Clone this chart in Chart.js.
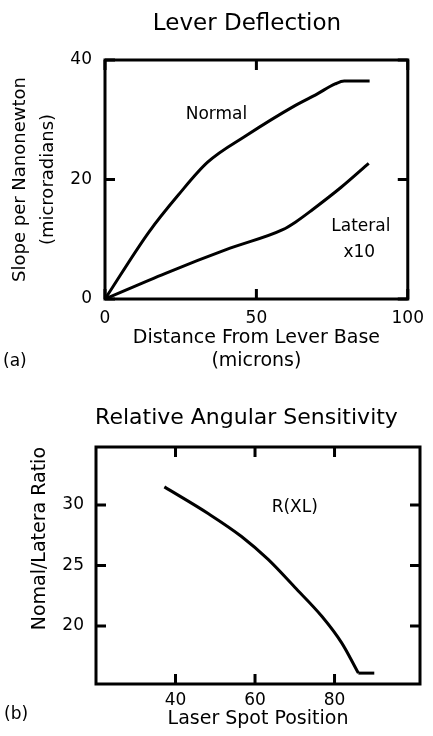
<!DOCTYPE html>
<html>
<head>
<meta charset="utf-8">
<script src="https://cdn.jsdelivr.net/npm/chart.js@4.4.1/dist/chart.umd.min.js"></script>
<style>
  html, body { margin: 0; padding: 0; background: #fff; }
  body { width: 433px; height: 736px; position: relative; overflow: hidden; font-family: "DejaVu Sans", sans-serif; }
  .panel { position: absolute; left: 0; width: 433px; }
  .tag { position: absolute; font-size: 17px; line-height: 20px; color: #000; }
</style>
</head>
<body>
<div class="panel" style="top:370px;height:366px"><canvas id="chartB" width="433" height="366"></canvas></div>
<div class="panel" style="top:0;height:376px"><canvas id="chartA" width="433" height="376"></canvas></div>
<div class="tag" style="left:3px;top:350px">(a)</div>
<div class="tag" style="left:4px;top:703px">(b)</div>
<script>
// (a) lever deflection
const normalX = [0, 14.5, 24.2, 33.9, 46.8, 62.9, 70, 76, 79, 87.4];
const normalY = [0, 11.2, 17.4, 22.9, 27.4, 32.4, 34.3, 36.0, 36.5, 36.5];
const lateralX = [0, 20, 41.3, 58.7, 63, 68.4, 78, 87.1];
const lateralY = [0, 4.3, 8.5, 11.6, 12.9, 14.9, 18.7, 22.7];
const xTicksA = [0, 50, 100];
const yTicksA = [0, 20, 40];

// (b) relative angular sensitivity (curve, then its flat end)
const ratioX = [37.2, 48.2, 56.6, 63.3, 70.0, 76.8, 81.8, 86.0];
const ratioY = [31.5, 29.3, 27.4, 25.5, 23.2, 20.8, 18.6, 16.1];
const ratioTailX = [86.0, 90.0];
const ratioTailY = [16.1, 16.1];
const xTicksB = [40, 60, 80];
const yTicksB = [20, 25, 30];

// curve labels, anchored in data units
const notesA = [
  { text: "Normal", x: 36.8, y: 30.8 },
  { text: "Lateral", x: 84.5, y: 12.2 },
  { text: "x10", x: 84, y: 7.8 }
];
const notesB = [{ text: "R(XL)", x: 70, y: 29.8 }];

const FONT = "'DejaVu Sans', sans-serif";
Chart.defaults.font.family = FONT;
Chart.defaults.color = "#000";

function points(xs, ys) {
  return xs.map((x, i) => ({ x: x, y: ys[i] }));
}

// box round the plot, inward tick marks on all four sides, curve labels
const framePlugin = {
  id: "frame",
  afterDatasetsDraw(chart, args, opts) {
    const { ctx, chartArea: a, scales } = chart;
    const len = 10;
    ctx.save();
    ctx.strokeStyle = "#000";
    ctx.lineWidth = 3;
    ctx.beginPath();
    scales.x.ticks.forEach(t => {
      const px = scales.x.getPixelForValue(t.value);
      ctx.moveTo(px, a.bottom); ctx.lineTo(px, a.bottom - len);
      ctx.moveTo(px, a.top); ctx.lineTo(px, a.top + len);
    });
    scales.y.ticks.forEach(t => {
      const py = scales.y.getPixelForValue(t.value);
      ctx.moveTo(a.left, py); ctx.lineTo(a.left + len, py);
      ctx.moveTo(a.right, py); ctx.lineTo(a.right - len, py);
    });
    ctx.stroke();
    ctx.strokeRect(a.left, a.top, a.right - a.left, a.bottom - a.top);

    ctx.fillStyle = "#000";
    ctx.font = "17px " + FONT;
    ctx.textAlign = "center";
    ctx.textBaseline = "middle";
    (opts.notes || []).forEach(n => {
      ctx.fillText(n.text, scales.x.getPixelForValue(n.x), scales.y.getPixelForValue(n.y));
    });
    ctx.restore();
  }
};

const lineStyle = {
  line: { borderColor: "#000", borderWidth: 3, cubicInterpolationMode: "monotone", fill: false },
  point: { radius: 0 }
};

// empty right-hand axis, only there to reserve room right of the plot
function spacer(w) {
  return {
    position: "right", display: true,
    grid: { display: false, drawTicks: false },
    border: { display: false },
    ticks: { display: false },
    afterFit: s => { s.width = w; }
  };
}

new Chart(document.getElementById("chartA"), {
  type: "line",
  data: {
    datasets: [
      { label: "Normal", data: points(normalX, normalY) },
      { label: "Lateral x10", data: points(lateralX, lateralY) }
    ]
  },
  options: {
    responsive: false,
    animation: false,
    layout: { padding: { left: 61, right: 0, top: 0, bottom: 3.5 } },
    elements: lineStyle,
    plugins: {
      legend: { display: false },
      tooltip: { enabled: false },
      title: {
        display: true, text: "Lever Deflection", color: "#000",
        font: { size: 23, weight: "normal", lineHeight: 1.2 },
        padding: { top: 10.2, bottom: 22.2 }
      },
      frame: { notes: notesA }
    },
    scales: {
      x: {
        type: "linear", min: 0, max: 100,
        grid: { display: false, drawTicks: false },
        border: { display: false },
        afterBuildTicks: s => { s.ticks = xTicksA.map(v => ({ value: v })); },
        afterFit: s => { s.height = 73.5; },
        ticks: { font: { size: 17 }, padding: 9, maxRotation: 0, autoSkip: false },
        title: {
          display: true, text: ["Distance From Lever Base", "(microns)"],
          font: { size: 19, lineHeight: 1.2 }, padding: { top: 0, bottom: 0 }
        }
      },
      y: {
        type: "linear", min: 0, max: 40,
        grid: { display: false, drawTicks: false },
        border: { display: false },
        afterBuildTicks: s => { s.ticks = yTicksA.map(v => ({ value: v })); },
        afterFit: s => { s.width = 44; },
        ticks: { font: { size: 17 }, padding: 13, autoSkip: false },
        title: {
          display: true, text: ["Slope per Nanonewton", "(microradians)"],
          font: { size: 18, lineHeight: 1.55 }, padding: { top: -55, bottom: 0 }
        }
      },
      yPad: spacer(19)
    }
  },
  plugins: [framePlugin]
});

new Chart(document.getElementById("chartB"), {
  type: "line",
  data: {
    datasets: [
      { label: "R(XL)", data: points(ratioX, ratioY) },
      { label: "R(XL) end", data: points(ratioTailX, ratioTailY) }
    ]
  },
  options: {
    responsive: false,
    animation: false,
    layout: { padding: { left: 60, right: 0, top: 0, bottom: 5.6 } },
    elements: lineStyle,
    plugins: {
      legend: { display: false },
      tooltip: { enabled: false },
      title: {
        display: true, text: "Relative Angular Sensitivity", color: "#000",
        font: { size: 22, weight: "normal", lineHeight: 1.2 },
        padding: { top: 34.8, bottom: 15.8 }
      },
      frame: { notes: notesB }
    },
    scales: {
      x: {
        type: "linear", min: 20, max: 101.5,
        grid: { display: false, drawTicks: false },
        border: { display: false },
        afterBuildTicks: s => { s.ticks = xTicksB.map(v => ({ value: v })); },
        afterFit: s => { s.height = 46.4; },
        ticks: { font: { size: 17 }, padding: 6, maxRotation: 0, autoSkip: false },
        title: {
          display: true, text: "Laser Spot Position",
          font: { size: 19, lineHeight: 1.2 }, padding: { top: 0, bottom: 0 }
        }
      },
      y: {
        type: "linear", min: 15.2, max: 34.8,
        grid: { display: false, drawTicks: false },
        border: { display: false },
        afterBuildTicks: s => { s.ticks = yTicksB.map(v => ({ value: v })); },
        afterFit: s => { s.width = 36; },
        ticks: { font: { size: 17 }, padding: 12, autoSkip: false },
        title: {
          display: true, text: "Nomal/Latera Ratio", align: "end",
          font: { size: 19, lineHeight: 1.2 }, padding: { top: -31.4, bottom: 0 }
        }
      },
      yPad: spacer(13)
    }
  },
  plugins: [framePlugin]
});
</script>
</body>
</html>
